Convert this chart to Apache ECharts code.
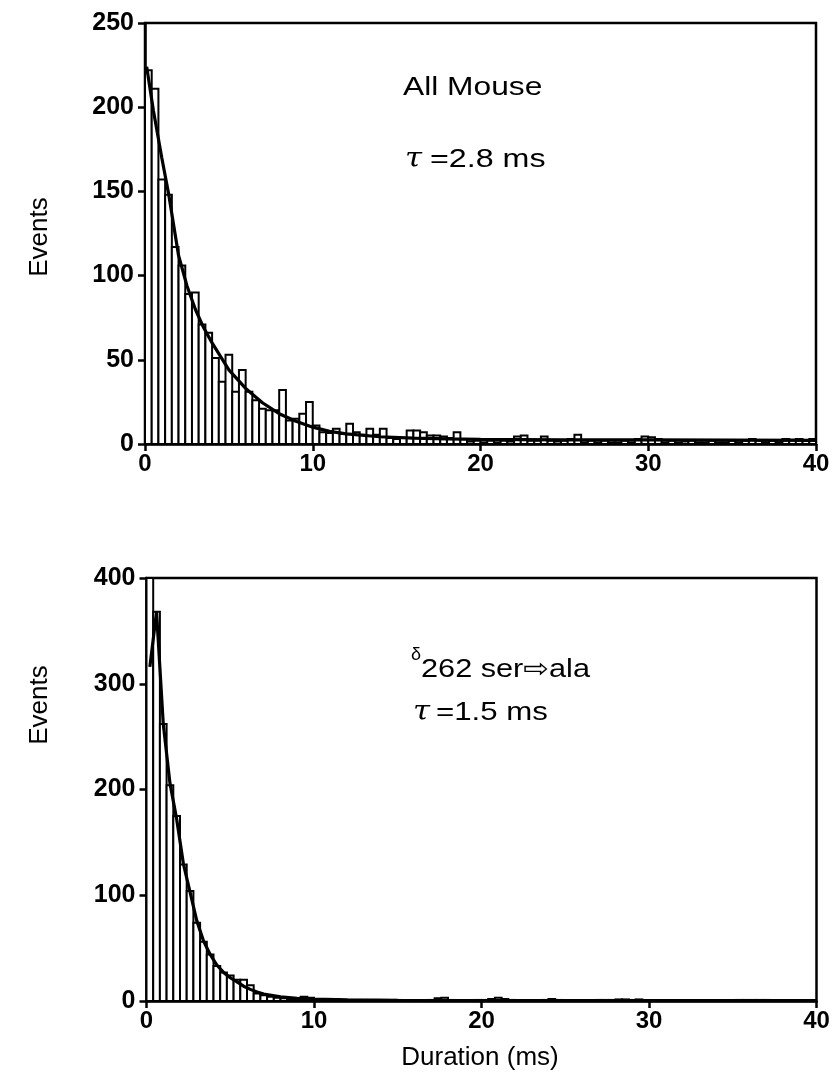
<!DOCTYPE html>
<html><head><meta charset="utf-8">
<script src="https://cdn.jsdelivr.net/npm/echarts@6/dist/echarts.min.js"></script>
<style>html,body{margin:0;padding:0;background:#fff}#c{width:833px;height:1088px}</style>
</head><body><div id="c"></div>
<script>
// ---- data ----
const binWidth = 0.4; // ms
const xTicks = [0, 10, 20, 30, 40];
const topYTicks = [0, 50, 100, 150, 200, 250];
const botYTicks = [0, 100, 200, 300, 400];

// All Mouse histogram (events per 0.4 ms bin, 0–40 ms)
const topCounts = [
  222, 211, 157, 148, 117, 106, 89, 90, 71, 66,
  51, 37, 53, 31, 44, 31, 26, 21, 20, 20,
  32, 14, 15, 18, 25, 11, 7, 6.5, 9, 6,
  12, 7, 5.5, 9, 5.5, 9, 3.5, 3, 3.5, 8,
  8, 7, 5, 5, 4.5, 3.5, 7, 3, 1.5, 2,
  1, 2, 1, 2, 1.5, 4.5, 5, 2, 2, 4.5,
  2, 1.5, 2, 3, 5.5, 1, 2, 1, 2, 1,
  1, 2, 1, 3, 4.5, 4, 3, 1, 2, 1,
  1.5, 2, 1, 1, 2, 1, 1, 2, 1, 2,
  3, 2, 1, 2, 1, 3, 2.5, 3, 2, 3
];
// fitted curve: [ms, events]
const topFit = [
  [0.1, 224], [0.5, 198], [1, 170], [1.4, 149], [2, 112], [2.5, 94], [3, 80],
  [3.5, 69], [4, 60], [5, 44], [6, 33], [7, 24.5], [8, 18], [9, 13.5], [10, 10],
  [11, 7.5], [12, 6], [14, 4.3], [16, 3.5], [18, 3], [20, 2.8], [25, 2.5],
  [30, 2.4], [35, 2.3], [40, 2.2]
];

// delta262 ser->ala histogram
const botCounts = [
  400, 368, 262, 204, 175, 129, 104, 74, 56, 44,
  33, 27, 24, 20, 20, 15, 7, 5.5, 4, 3,
  2.5, 2, 2, 4, 3, 2, 1.5, 1, 1.5, 1,
  1, 1, 1, 0.5, 1, 1, 0.5, 1, 0.5, 0.5,
  0.5, 0.5, 1, 2.5, 3, 1, 0.5, 0, 0.5, 1,
  1, 2, 3, 2, 1, 0.5, 0.5, 0.5, 0.5, 1,
  2, 1, 0.5, 0.5, 0.5, 0.5, 0.5, 1, 1, 1,
  1.5, 1.5, 1, 1.5, 0.5, 0.5, 0.5, 0.5, 0.5, 0.5,
  0.5, 0.5, 0.5, 0.5, 0.5, 0.5, 0.5, 0.5, 1, 1,
  1, 1, 1, 0.5, 0.5, 0.5, 0.5, 0.5, 0.5, 0.5
];
const botFit = [
  [0.2, 316], [0.6, 368], [1.0, 262], [1.4, 206], [1.8, 172], [2.2, 130],
  [2.6, 103], [3.0, 76], [3.4, 57], [3.8, 44], [4.2, 34], [4.6, 27], [5.0, 22],
  [5.4, 18], [5.8, 14], [6.2, 11], [6.6, 8.5], [7.0, 6.5], [8, 4], [9, 2.5],
  [10, 1.8], [12, 1], [15, 0.6], [20, 0.4], [30, 0.3], [40, 0.3]
];

// ---- chart ----
const FONT = "'Liberation Sans', Arial, Helvetica, 'DejaVu Sans', sans-serif";
const chart = echarts.init(document.getElementById('c'), null, {renderer: 'canvas'});

function histSeries(counts, idx) {
  return {
    type: 'custom', xAxisIndex: idx, yAxisIndex: idx, clip: true, z: 2,
    data: counts.map((v, i) => [i * binWidth, (i + 1) * binWidth, v]),
    encode: {x: [0, 1], y: 2},
    renderItem: function (params, api) {
      const p0 = api.coord([api.value(0), 0]);
      const p1 = api.coord([api.value(1), api.value(2)]);
      return {
        type: 'rect',
        shape: {x: p0[0], y: p1[1], width: p1[0] - p0[0], height: p0[1] - p1[1]},
        style: {fill: '#fff', stroke: '#000', lineWidth: 2}
      };
    }
  };
}
function fitSeries(points, idx) {
  return {
    type: 'line', xAxisIndex: idx, yAxisIndex: idx, data: points, z: 3,
    showSymbol: false, symbol: 'none', smooth: false,
    lineStyle: {color: '#000', width: 3.2}
  };
}
function xAx(idx) {
  return {
    type: 'value', gridIndex: idx, min: xTicks[0], max: xTicks[xTicks.length - 1], interval: 10,
    axisLine: {lineStyle: {color: '#000', width: 2.5}},
    axisTick: {show: true, length: 7, lineStyle: {color: '#000', width: 2.5}},
    axisLabel: {color: '#000', fontSize: 24, fontWeight: 'bold', fontFamily: FONT, margin: 8},
    splitLine: {show: false}
  };
}
function yAx(idx, ticks) {
  return {
    type: 'value', gridIndex: idx, min: ticks[0], max: ticks[ticks.length - 1],
    interval: ticks[1] - ticks[0],
    axisLine: {show: true, lineStyle: {color: '#000', width: 2.5}},
    axisTick: {show: true, length: 7, lineStyle: {color: '#000', width: 2.5}},
    axisLabel: {color: '#000', fontSize: 25, fontWeight: 'bold', fontFamily: FONT, margin: 11},
    splitLine: {show: false}
  };
}
function txt(x, y, text, font, opts) {
  opts = opts || {};
  const el = {
    type: 'text', x: x, y: y, z: 10,
    style: {text: text, fill: '#000', font: font,
      textAlign: opts.align || 'left', textVerticalAlign: 'middle'}
  };
  if (opts.rotation !== undefined) el.rotation = opts.rotation;
  if (opts.scaleX !== undefined) el.scaleX = opts.scaleX;
  return el;
}
const F26 = "26px " + FONT;
const TAU = "italic 28px 'DejaVu Serif', serif";

chart.setOption({
  backgroundColor: '#fff',
  animation: false,
  grid: [
    {left: 145, top: 23, width: 671, height: 421, show: true, borderColor: '#000', borderWidth: 2.5, backgroundColor: 'transparent'},
    {left: 146.5, top: 578, width: 670, height: 423, show: true, borderColor: '#000', borderWidth: 2.5, backgroundColor: 'transparent'}
  ],
  xAxis: [xAx(0), xAx(1)],
  yAxis: [yAx(0, topYTicks), yAx(1, botYTicks)],
  series: [histSeries(topCounts, 0), fitSeries(topFit, 0), histSeries(botCounts, 1), fitSeries(botFit, 1)],
  graphic: [
    txt(403, 88, 'All Mouse', F26, {scaleX: 1.22}),
    txt(405, 160, 'τ', TAU, {scaleX: 1.1}),
    txt(430, 160, '=2.8 ms', F26, {scaleX: 1.24}),
    txt(411, 655, 'δ', "18px " + FONT),
    txt(421, 670, '262 ser⇨ala', F26, {scaleX: 1.18}),
    txt(413, 713, 'τ', TAU, {scaleX: 1.1}),
    txt(436, 713, '=1.5 ms', F26, {scaleX: 1.2}),
    txt(480, 1058, 'Duration (ms)', F26, {align: 'center'}),
    txt(40, 237, 'Events', F26, {rotation: Math.PI / 2, align: 'center'}),
    txt(40, 705, 'Events', F26, {rotation: Math.PI / 2, align: 'center'})
  ]
});
</script>
</body></html>
